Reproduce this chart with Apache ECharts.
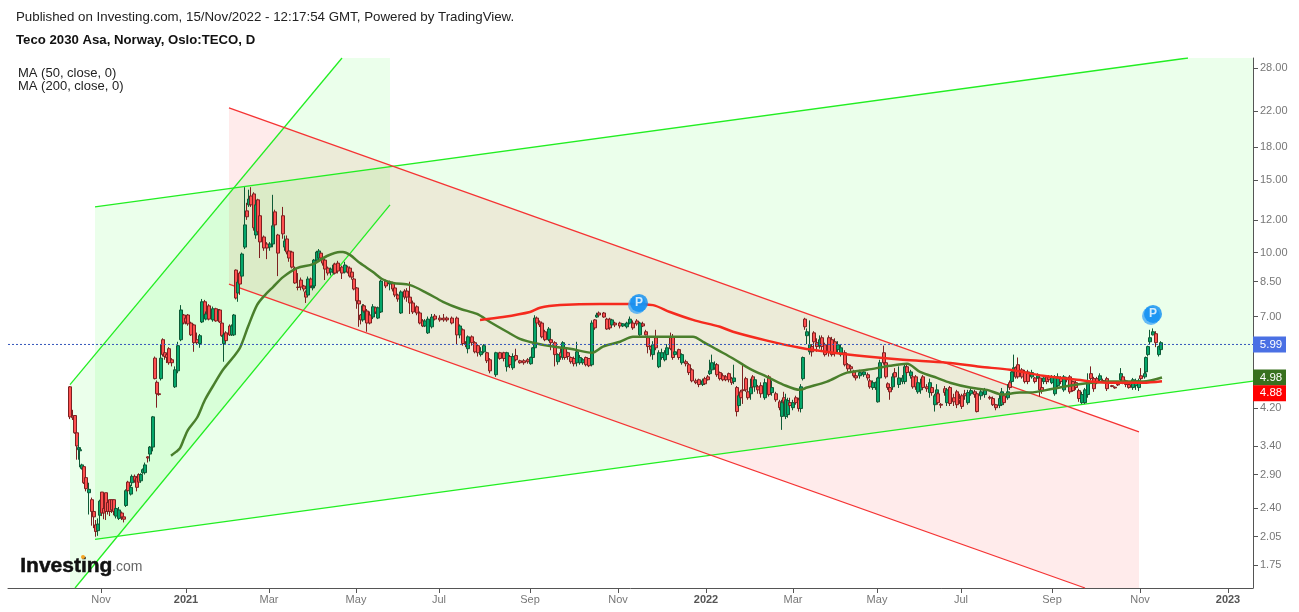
<!DOCTYPE html>
<html><head><meta charset="utf-8">
<script src="https://cdn.jsdelivr.net/npm/echarts@6/dist/echarts.min.js"></script>
<style>html,body{margin:0;padding:0;background:#fff}#c{width:1299px;height:612px}</style>
</head><body><div id="c"></div>
<script>
// bar position, open, close, low, high
const candles = [
[0,4.73,4.0,3.95,4.75],[1.5,4.02,3.98,3.93,4.16],[2.5,4.03,3.66,3.64,4.03],[3.5,3.66,3.40,3.15,3.66],[4.5,3.33,3.37,3.15,3.58],[5,3.31,3.33,3.02,3.36],[6,3.0,3.06,2.98,3.08],[7,3.03,2.77,2.75,3.03],[8,2.85,2.68,2.64,2.87],[9.5,2.62,2.67,2.32,2.77],[11,2.52,2.36,2.18,2.55],[12,2.36,2.29,2.15,2.36],[13,2.19,2.11,2.05,2.25],[14,2.12,2.2,2.06,2.27],[15,2.31,2.5,2.15,2.52],[16,2.63,2.34,2.3,2.63],[17,2.4,2.34,2.26,2.42],[18,2.62,2.36,2.25,2.62],[19,2.48,2.36,2.32,2.5],[20,2.52,2.36,2.3,2.52],[21,2.52,2.38,2.34,2.52],[22,2.52,2.36,2.31,2.52],[23,2.3,2.4,2.27,2.45],[24.5,2.27,2.38,2.25,2.42],[26,2.34,2.29,2.25,2.36],[27,2.29,2.26,2.22,2.29],
[28,2.44,2.65,2.42,2.67],[29,2.78,2.65,2.63,2.8],[30.5,2.6,2.7,2.58,2.74],[31,2.77,2.87,2.72,2.9],[32.5,2.87,2.81,2.77,2.9],[33.5,2.85,2.7,2.64,2.87],[34.5,2.9,2.78,2.76,2.92],[35.5,2.8,2.9,2.77,2.92],[36.5,2.93,2.98,2.91,3.0],[37.5,2.93,3.06,2.9,3.1],[39,3.2,3.18,3.1,3.21],[40,3.25,3.38,3.12,3.4],[41.5,3.38,4.0,3.3,4.02],
[42.5,5.55,4.95,4.93,5.6],[43.5,4.85,4.55,4.21,4.9],[44.5,4.55,4.53,4.5,4.56],[45.5,4.95,5.55,4.9,6.0],[46.5,6.15,5.66,5.6,6.2],[47.5,5.72,5.6,5.5,6.15],[48.5,5.66,5.57,5.4,5.7],[49.5,5.85,5.41,5.35,5.9],[51,5.5,5.41,5.3,5.55],[52.5,4.73,5.2,4.7,5.3],[54,5.17,5.95,5.1,6.08],[55.5,6.15,7.26,6.1,7.46],[57,7.06,6.75,6.7,7.1],[58,6.94,6.79,6.7,7.0],[59,7.06,6.72,6.65,7.1],[60.5,6.75,6.32,6.28,6.8],[62,6.68,6.05,5.75,6.72],[63.5,6.15,6.05,6.0,6.4],[65,6.02,6.29,5.88,6.35],[66,6.79,7.6,6.75,7.72],[67.5,7.6,7.06,7.0,7.68],[68,6.9,7.1,6.85,7.2],[69.5,7.43,6.9,6.85,7.5],[71.5,6.87,7.31,6.8,7.4],[73,7.31,6.83,6.8,7.35],[74.5,6.87,7.22,6.8,7.3],[75,7.26,6.79,6.75,7.3],[76,6.75,6.29,6.25,6.8],[77,6.02,6.32,5.44,6.4],[78,6.39,6.12,6.05,6.45],[80,6.64,6.32,6.28,6.7],[81,6.32,6.64,6.28,6.7],[82,6.32,7.06,6.28,7.1],
[83,9.07,7.76,7.7,9.1],[84,7.98,8.48,7.6,8.6],[85,8.92,8.39,7.9,9.0],[86,8.77,9.92,8.7,10.0],[87.5,10.31,11.67,10.2,14.4],[88.5,12.62,12.21,12.0,13.2],[89.5,13.05,13.48,12.9,14.2],[90.5,13.71,13.05,12.9,14.4],[92,13.87,11.48,11.3,14.0],[93,11.03,13.05,10.8,13.4],[94,13.42,11.23,11.1,13.5],[95,12.28,10.61,9.7,12.4],[97,10.91,10.26,10.1,11.0],[98.5,10.49,10.26,9.64,10.6],[100,10.31,10.49,10.1,10.6],[101.5,10.49,11.61,10.3,13.8],[102.5,12.55,11.67,11.5,12.7],[104,11.03,9.97,8.77,11.1],[106.5,12.28,11.1,10.8,12.9],[107.5,10.31,10.67,10.1,11.0],[108.5,10.79,10.03,9.9,11.0],[109.5,10.09,9.7,9.5,10.2],[111,10.03,9.22,9.15,10.1],[112.5,9.17,8.44,8.4,9.25],[114,8.25,8.23,8.1,8.92],[115.5,8.58,8.25,8.1,8.7],[117,8.3,8.16,8.05,8.35],[118,8.03,7.8,7.55,8.1],[119,7.89,8.63,7.8,8.75],[120.5,8.63,8.3,8.2,8.7],[121.5,8.21,8.3,8.1,8.35],[122,8.3,9.59,8.2,9.65],[123.5,9.59,10.03,9.5,10.1],[124.5,9.7,10.09,9.6,10.2],[125.5,9.97,9.7,9.6,10.0],[126.5,9.64,9.43,9.3,9.7],[127.5,9.59,9.12,8.58,9.65],[129,9.17,8.92,8.8,9.25],[130.5,8.97,9.12,8.8,9.2],[132,8.92,9.33,8.85,9.4],[132.5,9.38,8.92,8.85,9.45],[134,9.43,9.02,8.9,9.55],[136,9.22,8.92,8.63,9.3],[137.5,8.97,9.33,8.9,9.5],[139,9.22,8.97,8.9,9.3],[140,9.17,8.77,8.7,9.25],[141,8.97,8.72,8.6,9.0],[142,8.63,8.16,8.1,8.7],[143.5,8.21,7.64,7.31,8.25],[144.5,7.64,7.51,6.61,7.7],[145.5,7.06,6.87,6.7,7.1],[146.5,6.87,7.43,6.8,7.5],[147,7.43,7.22,7.15,7.5],[148.5,7.22,6.75,6.43,7.3],[150,7.06,6.75,6.7,7.2],[151.5,6.98,7.39,6.9,7.5],[153,7.35,7.18,7.1,7.4],[154,6.94,7.35,6.9,7.4],[155.5,7.18,8.53,7.14,8.6],[158,8.53,8.3,8.2,8.6],[160,8.39,8.48,8.1,8.55],[161.5,8.44,8.16,8.05,8.5],[162.5,8.21,7.89,7.8,8.3],[164,7.89,7.72,7.6,7.95],[165.5,7.14,8.03,7.1,8.1],[167.5,8.07,7.8,7.7,8.15],[168.5,8.07,7.8,7.6,8.2],[170,7.8,7.55,7.1,8.5],[171.5,7.55,7.18,7.1,7.65],[173.5,7.39,7.14,7.05,7.45],[175,7.14,6.75,6.7,7.2],[176.5,6.83,6.64,6.6,6.9],[177.5,6.64,6.83,6.6,6.9],[179,6.39,6.9,6.35,7.0],[181,6.61,6.98,6.55,7.1],[182.5,7.02,6.9,6.85,7.1],[185,6.94,6.87,6.8,7.05],[187,6.94,6.87,6.8,7.1],[188.5,6.94,6.87,6.8,7.0],[191,6.94,6.75,6.7,7.0],[193.5,6.94,6.32,6.0,7.0],[195,6.32,6.64,6.2,6.7],[196.5,6.5,6.02,5.95,6.55],[198,6.02,6.0,5.9,6.1],[199,5.85,6.25,5.7,6.3],[201,6.25,6.05,5.95,6.3],[202.5,6.05,5.75,5.7,6.1],[204,5.95,5.72,5.6,6.0],[205.5,5.66,5.75,5.6,5.9],[207,5.75,5.95,5.7,6.0],[208.5,5.72,5.47,5.4,5.75],[210,5.5,5.17,5.1,5.55],[213,5.06,5.72,5.0,5.75],[215,5.72,5.54,5.5,5.75],[217,5.72,5.54,5.45,5.75],[218.5,5.29,5.72,5.15,5.75],[220,5.6,5.35,5.25,5.65],[221.5,5.26,5.6,5.2,5.7],[223,5.63,5.5,5.45,5.85],[225,5.47,5.41,5.38,5.5],[227,5.47,5.41,5.35,5.52],[229,5.5,5.44,5.38,5.55],[230.5,5.38,5.57,5.35,5.6],
[231.5,5.57,5.88,5.5,5.9],[232.5,5.88,6.94,5.85,7.05],[233.5,6.94,6.75,6.6,7.0],[235,6.79,6.68,6.6,6.85],[236,6.75,6.25,6.2,6.8],[237.5,6.43,6.15,6.1,6.5],[239.5,6.15,6.53,6.1,6.6],[240.5,6.15,6.05,5.8,6.2],[242.5,6.05,5.66,5.3,6.1],[244,5.44,5.66,5.35,5.7],[245.5,5.72,5.6,5.5,5.9],[246.5,5.57,6.05,5.5,6.1],[247.5,5.88,5.57,5.5,5.9],[249,5.72,5.6,5.5,5.75],[250.5,5.57,5.44,5.38,5.6],[252,5.54,5.38,5.3,5.6],[253.5,5.41,5.75,5.3,6.08],[255,5.41,5.57,5.35,5.65],[256.5,5.41,5.5,5.35,5.55],[258,5.57,5.35,5.3,5.6],[259.5,5.54,5.32,5.28,5.55],[261,5.35,6.75,5.3,6.85],[262.5,6.87,6.57,6.5,6.9],[263.5,6.98,7.06,6.95,7.15],[264.5,7.14,7.06,7.0,7.2],[267,7.14,6.98,6.95,7.18],[268.5,6.9,6.53,6.5,6.95],[270,6.9,6.57,6.5,6.95],[271,6.68,6.87,6.6,6.9],[272.5,6.75,6.68,6.6,6.8],[275,6.75,6.64,6.55,6.8],[276.5,6.64,6.72,6.6,6.75],[278.5,6.61,6.75,6.55,6.8],[280,6.75,6.9,6.7,7.0],[281.5,6.75,6.57,6.5,6.85],[283.5,6.83,6.72,6.65,6.9],[285,6.32,6.75,6.28,6.8],[286.5,6.72,6.64,6.6,6.8],[288,6.43,6.32,6.3,6.5],[289,6.22,5.92,5.7,6.3],[290.5,5.92,5.82,5.6,5.95],[291.5,5.66,5.98,5.5,6.1],[293,6.22,5.88,5.8,6.5],[294.5,5.29,5.72,5.25,5.8],[296,5.57,5.72,5.5,5.85],[297.5,5.5,5.72,5.45,5.8],[298.5,5.66,5.88,5.6,6.0],[300.5,6.25,5.85,5.8,6.4],[301.5,6.25,5.57,5.5,6.35],[302.5,5.66,5.75,5.6,5.85],[304.5,5.82,5.57,5.5,5.85],[306,5.41,5.66,5.35,5.7],[308,5.44,5.38,5.3,5.5],[309.5,5.35,5.12,5.05,5.4],[311,5.2,4.89,4.85,5.25],[313,4.89,4.84,4.8,4.95],[314.5,4.92,4.79,4.72,4.95],[316.5,4.79,4.89,4.75,4.95],[317.5,4.95,4.81,4.78,5.0],[319,5.0,4.92,4.9,5.05],[320,5.09,5.17,5.05,5.5],[321,5.2,5.41,5.15,5.66],[322.5,5.26,5.35,5.2,5.45],[323.5,5.35,5.06,5.0,5.4],[325,5.12,4.95,4.9,5.15],[326.5,5.03,4.92,4.88,5.1],[328,5.0,4.92,4.88,5.05],[329.5,5.09,4.92,4.85,5.12],[331,4.95,4.84,4.78,5.0],[332,4.87,4.97,4.8,5.35],
[333.5,4.71,4.12,4.01,4.75],[334.5,4.26,4.5,4.2,4.55],[335.5,4.6,4.45,4.4,4.65],[336.5,4.65,4.63,4.3,5.35],[338,4.95,4.65,4.6,5.0],[339,4.6,4.45,4.4,4.65],[340.5,4.55,4.71,4.4,4.95],[341.5,5.0,4.73,4.68,5.05],[342.5,4.73,4.92,4.6,5.0],[344,4.73,4.65,4.55,4.78],[345.5,4.76,4.55,4.45,4.85],[347.5,4.45,4.84,4.4,4.95],[349.5,5.0,4.53,4.48,5.05],[351,4.58,4.71,4.5,4.9],[353,4.55,4.4,4.35,4.6],[355,4.35,4.21,4.15,4.4],[356,4.01,4.33,3.72,4.4],[357,4.45,4.35,4.3,4.6],[358,4.01,4.4,3.95,4.55],[359,4.05,4.38,3.98,4.45],[360,4.33,4.26,4.2,4.45],[361.5,4.21,4.33,4.15,4.4],[363,4.45,4.33,4.28,4.5],[364.5,4.4,4.19,4.12,4.45],[365.5,4.19,4.73,4.1,4.8],[366.5,4.95,5.57,4.9,5.6],[367.5,6.9,6.61,6.5,6.95],[368.5,6.29,6.43,6.0,6.55],[370,5.75,5.98,5.66,6.85],[371,5.92,5.75,5.6,6.0],[372,6.39,6.08,5.9,6.45],[373.5,6.05,5.92,5.75,6.2],[375,5.95,6.15,5.85,6.3],[376,6.22,5.92,5.8,6.3],[377.5,5.98,5.66,5.6,6.05],[379.5,6.22,5.72,5.6,6.3],[381,6.15,5.66,5.6,6.25],[382.5,6.08,5.72,5.6,6.2],[384,5.82,5.98,5.7,6.1],[385.5,5.66,5.88,5.6,6.0],[387.5,5.72,5.35,5.3,5.8],[389,5.35,5.23,5.15,5.4],[390.5,5.29,5.23,5.15,5.35],[392,5.14,5.03,4.98,5.2],[393,5.03,4.97,4.9,5.1],[395,5.03,5.12,4.95,5.2],[397,5.06,5.14,5.0,5.2],[399,5.06,4.97,4.9,5.12],[400,4.89,4.73,4.68,4.95],[401.5,4.71,4.84,4.65,4.9],[403,4.71,4.84,4.65,4.87],[404,4.35,4.97,4.33,5.0],[405,4.97,5.41,4.9,5.5],[407,5.72,5.41,5.35,5.95],[408,5.41,5.0,4.95,5.45],[409,4.81,4.71,4.65,4.85],[410,4.71,4.6,4.4,4.75],[411.5,4.73,5.0,4.65,5.1],[412.5,5.12,5.0,4.95,5.25],[414.5,4.79,4.97,4.7,5.3],[416.5,4.87,4.97,4.8,5.05],[417.5,4.87,5.29,4.8,5.35],[418.5,5.29,5.12,5.05,5.35],[420.5,5.03,5.14,4.95,5.2],[421.5,5.0,4.73,4.68,5.05],[423,5.0,4.73,4.65,5.05],[424,4.6,4.84,4.55,4.95],[425.5,4.65,4.81,4.55,4.95],[426.5,5.0,4.71,4.65,5.05],[428.5,4.73,4.68,4.6,4.8],[430,4.58,4.84,4.45,4.95],[431,4.71,4.58,4.5,4.75],[432.5,4.28,4.5,4.12,4.55],[433.5,4.53,4.65,4.45,4.8],[434,4.55,4.33,4.28,4.6],[435.5,4.29,4.27,4.2,4.32],[437.5,4.68,4.58,4.5,4.75],[438.5,4.33,4.65,4.25,4.7],[440,4.71,4.31,4.25,4.75],[442,4.45,4.35,4.25,4.55],[443.5,4.6,4.28,4.2,4.65],[445,4.43,4.38,4.3,4.55],[446,4.5,4.24,4.18,4.55],[447.5,4.55,4.5,4.4,4.65],[449,4.33,4.58,4.28,4.65],[450.5,4.55,4.63,4.5,4.7],[452.5,4.6,4.53,4.45,4.65],[453.5,4.55,4.12,4.1,4.6],[455.5,4.5,4.6,4.4,4.65],[457.5,4.53,4.65,4.45,4.7],[460,4.46,4.44,4.4,4.5],[461.5,4.43,4.28,4.25,4.48],[463,4.28,4.21,4.15,4.3],[465,4.26,4.43,4.2,4.55],[466,4.28,4.6,4.25,4.7],[467,4.5,4.33,4.28,4.55],[469,4.45,4.6,4.4,4.8],[470,4.84,4.71,4.65,4.9],[471,4.87,5.14,4.8,5.2],[472,5.14,5.26,5.1,5.66],[473,5.26,5.0,4.95,5.3],[474,5.35,5.0,4.95,5.57],[476,5.2,5.0,4.95,5.25],[477.5,5.14,4.87,4.82,5.2],[479,5.14,4.87,4.8,5.2],[481,5.0,5.12,4.95,5.2],[482.5,4.97,4.87,4.82,5.0],[484,4.97,5.03,4.95,5.1],[485,4.97,4.65,4.48,5.0],[486,4.71,4.63,4.55,4.75],[487,4.87,4.97,4.8,5.05],[488.5,5.0,4.87,4.8,5.05],[489.5,5.0,4.92,4.85,5.05],[491,4.84,5.0,4.8,5.05],[492.5,4.55,5.0,4.5,5.05],[494,4.76,5.0,4.7,5.1],[495.5,4.97,4.87,4.8,5.02],[497,4.65,5.0,4.6,5.05],[498.5,4.97,4.92,4.85,5.0],[500,5.0,4.6,4.55,5.05],[501.5,4.87,4.63,4.6,4.9],[503,4.84,4.71,4.65,4.9],[504.5,4.63,4.43,4.35,4.68],[506,4.33,4.53,4.3,4.6],[507.5,4.33,4.65,4.3,4.7],[509,4.53,4.87,4.45,5.1],[510.5,5.09,4.95,4.9,5.3],[512,4.95,4.68,4.6,5.0],[513.5,4.95,4.84,4.8,5.0],[515,4.92,5.03,4.85,5.1],[516.5,4.9,4.88,4.85,4.95],[518.5,4.95,4.68,4.62,5.0],[521,4.76,4.74,4.72,4.78],[522.5,4.72,4.7,4.68,4.74],[524,4.8,4.78,4.75,4.82],[525.5,4.92,5.09,4.88,5.25],[526.5,5.0,4.84,4.8,5.05],[528,4.89,4.79,4.72,4.92],[529.5,4.79,4.71,4.68,4.82],[531.5,4.71,4.92,4.65,4.97],[533,4.76,4.89,4.65,4.95],[534.5,4.71,4.89,4.62,4.95],[535.5,5.03,4.95,4.9,5.25],[537.5,5.0,5.09,4.95,5.2],[538,5.14,5.57,5.1,5.6],[539,5.66,5.92,5.6,5.95],[540,6.08,6.22,6.0,6.5],[541.5,6.32,6.43,6.3,6.55],[543,6.36,6.05,5.9,6.45],[544.5,5.66,5.92,5.6,5.95],[545.5,5.82,6.05,5.75,6.1]
];
// moving averages: [bar position, price]
const ma50 = [[50.5,3.22],[53,3.29],[55,3.36],[57,3.54],[59,3.72],[63.5,3.98],[67.5,4.40],[72.5,4.84],[76.5,5.2],[81.5,5.57],[85,5.88],[89,6.61],[93.5,7.46],[97.5,7.89],[101.5,8.25],[106.5,8.72],[113.5,9.17],[121.5,9.38],[128.5,9.81],[135,10.03],[136.5,10.03],[140,9.87],[145,9.43],[151.5,8.97],[156,8.63],[161.5,8.44],[170,8.34],[178.5,7.98],[186.5,7.6],[195,7.31],[203.5,7.1],[210,6.79],[218.5,6.43],[225,6.18],[231.5,6.05],[241.5,5.92],[250,5.85],[261,5.72],[266.5,5.92],[275,6.08],[281.5,6.25],[291.5,6.25],[311.5,6.25],[316.5,6.08],[323.5,5.82],[331.5,5.54],[340,5.23],[348.5,5.0],[356.5,4.79],[365,4.65],[368.5,4.71],[378.5,4.87],[388.5,5.12],[398.5,5.2],[410,5.32],[418.5,5.38],[425,5.14],[433.5,4.97],[440,4.84],[450,4.71],[458.5,4.65],[466.5,4.53],[475,4.58],[480,4.58],[491.5,4.68],[503.5,4.79],[520,4.87],[536.5,4.87],[546,4.98]];
const ma200 = [[205,6.87],[216.5,6.98],[230,7.18],[235,7.35],[245,7.46],[265,7.51],[280,7.51],[291.5,7.46],[300,7.18],[311.5,6.87],[325,6.61],[331.5,6.43],[348.5,6.12],[365,5.88],[381.5,5.72],[398.5,5.6],[416.5,5.5],[438.5,5.41],[455,5.29],[470,5.2],[486.5,5.03],[503.5,4.92],[520,4.84],[536.5,4.84],[546,4.88]];
// trend channels: [bar position, price]
const steepUpper = [[0,4.79],[136,29.6]];
const steepLower = [[2.5,1.54],[160,13.05]];
const steepFill = [[0,4.79],[136,29.6],[160,29.6],[160,13.05],[2.5,1.54],[0,1.54]];
const wideUpper = [[12.5,12.9],[559,29.6]];
const wideLower = [[12.5,2.02],[591.5,4.88]];
const wideFill = [[12.5,12.9],[559,29.6],[591.5,29.6],[591.5,4.88],[12.5,2.02]];
const fallUpper = [[79.5,22.4],[534.5,3.68]];
const fallLower = [[79.5,8.39],[507.5,1.54]];
const fallFill = [[79.5,22.4],[534.5,3.68],[534.5,1.54],[507.5,1.54],[79.5,8.39]];
const lastPrice = [[-31,5.99],[591.5,5.99]];
const pins = [[284.5,7.55],[541.5,7.1]];
// axis ticks
const priceTicks = [28,22,18,15,12,10,8.5,7,5,4.2,3.4,2.9,2.4,2.05,1.75];
const timeTicks = [15.5,58,99.5,143,184.5,230,274,318,361.5,403.5,445.5,491,535,579];
const timeLabels = ['Nov','2021','Mar','May','Jul','Sep','Nov','2022','Mar','May','Jul','Sep','Nov','2023'];
// price tags on the axis: [price, label, colour, nudge]
const tags = [[5.99,'5.99','#4a70e4',0],[4.98,'4.98','#38701e',0],[4.88,'4.88','#ff0000',12]];

const FONT = '"Liberation Sans", Arial, sans-serif';
const chart = echarts.init(document.getElementById('c'), null, {renderer:'canvas'});
const fillSeries = (pts, fill) => ({
  type:'custom', data:pts, encode:{x:0,y:1}, clip:true, silent:true, z:1, animation:false,
  renderItem:(p,api)=> p.dataIndex!==0 ? null : ({type:'polygon',shape:{points:pts.map(q=>api.coord(q))},style:{fill:fill},silent:true})
});
const seg = (pts,color,z,w,sm) => ({type:'line',data:pts,symbol:'none',silent:true,z:z||2,animation:false,smooth:sm||false,lineStyle:{color:color,width:w||1.3}});
chart.setOption({
  animation:false, backgroundColor:'#fff',
  textStyle:{fontFamily:FONT},
  grid:{left:8,right:46,top:58,bottom:24,containLabel:false},
  xAxis:{type:'value',min:-31,max:591.5,splitLine:{show:false},
    axisLine:{onZero:false,lineStyle:{color:'#555',width:1}},
    axisTick:{length:5,customValues:timeTicks,lineStyle:{color:'#555'}},
    axisLabel:{customValues:timeTicks,margin:6,color:'#777',fontSize:11,fontFamily:FONT,
      formatter:v=>{const l=timeLabels[timeTicks.indexOf(v)]||'';return /^\d/.test(l)?'{y|'+l+'}':l;},
      rich:{y:{fontWeight:'bold',color:'#555',fontSize:11,fontFamily:FONT}}}},
  yAxis:{type:'log',position:'right',min:1.54,max:29.6,splitLine:{show:false},
    axisLine:{show:true,onZero:false,lineStyle:{color:'#555',width:1}},
    axisTick:{show:true,length:5,customValues:priceTicks,lineStyle:{color:'#555'}},
    axisLabel:{customValues:priceTicks,margin:7,color:'#777',fontSize:11,fontFamily:FONT,formatter:v=>Number(v).toFixed(2)}},
  series:[
    fillSeries(steepFill,'rgba(0,255,0,0.08)'),
    fillSeries(wideFill,'rgba(0,255,0,0.08)'),
    fillSeries(fallFill,'rgba(255,0,0,0.08)'),
    seg(steepUpper,'#22ee22'),seg(steepLower,'#22ee22'),seg(wideUpper,'#22ee22'),seg(wideLower,'#22ee22'),
    seg(fallUpper,'#f53333'),seg(fallLower,'#f53333'),
    {type:'candlestick',data:candles,encode:{x:0,y:[1,2,3,4]},barWidth:3,z:3,silent:true,animation:false,
      itemStyle:{color:'#04a66a',color0:'#ff5050',borderColor:'#0e5a36',borderColor0:'#7d2020',borderWidth:1}},
    seg(ma50,'#4a7f2c',4,2.5,0.3),seg(ma200,'#f52a1e',4,2.5,0.3),
    {type:'line',data:lastPrice,symbol:'none',silent:true,z:5,animation:false,lineStyle:{color:'#3355bb',width:1,type:[2,2]}},
    {type:'scatter',data:pins,symbolSize:18,z:6,silent:true,animation:false,
      itemStyle:{color:'#0d8df2',shadowColor:'#45a9f6',shadowBlur:0,shadowOffsetX:-2,shadowOffsetY:2},
      label:{show:true,position:'inside',formatter:'P',color:'#fff',fontWeight:'bold',fontSize:12,fontFamily:FONT}},
    {type:'custom',data:tags.map(t=>[591.5,t[0]]),encode:{x:0,y:1},clip:false,silent:true,z:7,animation:false,
      renderItem:(p,api)=>{const t=tags[p.dataIndex];const c=api.coord([591.5,t[0]]);const y=c[1]+t[3];
        return {type:'group',children:[
          {type:'rect',shape:{x:c[0],y:y-8,width:33,height:16},style:{fill:t[2]}},
          {type:'text',style:{x:c[0]+18,y:y,text:t[1],fill:'#fff',font:'11.5px '+FONT,align:'center',verticalAlign:'middle'}}]};}}
  ],
  graphic:[
    {type:'text',left:16,top:11,style:{text:'Published on Investing.com, 15/Nov/2022 - 12:17:54 GMT, Powered by TradingView.',fill:'#222',font:'13.3px '+FONT}},
    {type:'text',left:16,top:34,style:{text:'Teco 2030 Asa, Norway, Oslo:TECO, D',fill:'#111',font:'bold 13.2px '+FONT}},
    {type:'text',left:18,top:67,style:{text:'MA (50, close, 0)',fill:'#222',font:'13px '+FONT}},
    {type:'text',left:18,top:80,style:{text:'MA (200, close, 0)',fill:'#222',font:'13px '+FONT}},
    {type:'text',left:20,top:555,z:20,style:{text:'Investing',fill:'#111',stroke:'#111',lineWidth:0.5,font:'bold 21px '+FONT}},
    {type:'text',left:112,top:560,z:20,style:{text:'.com',fill:'#666',font:'14px '+FONT}},
    {type:'circle',x:83,y:557,z:21,shape:{cx:0,cy:0,r:2},style:{fill:'#f5a623'}}
  ]
});
</script></body></html>
